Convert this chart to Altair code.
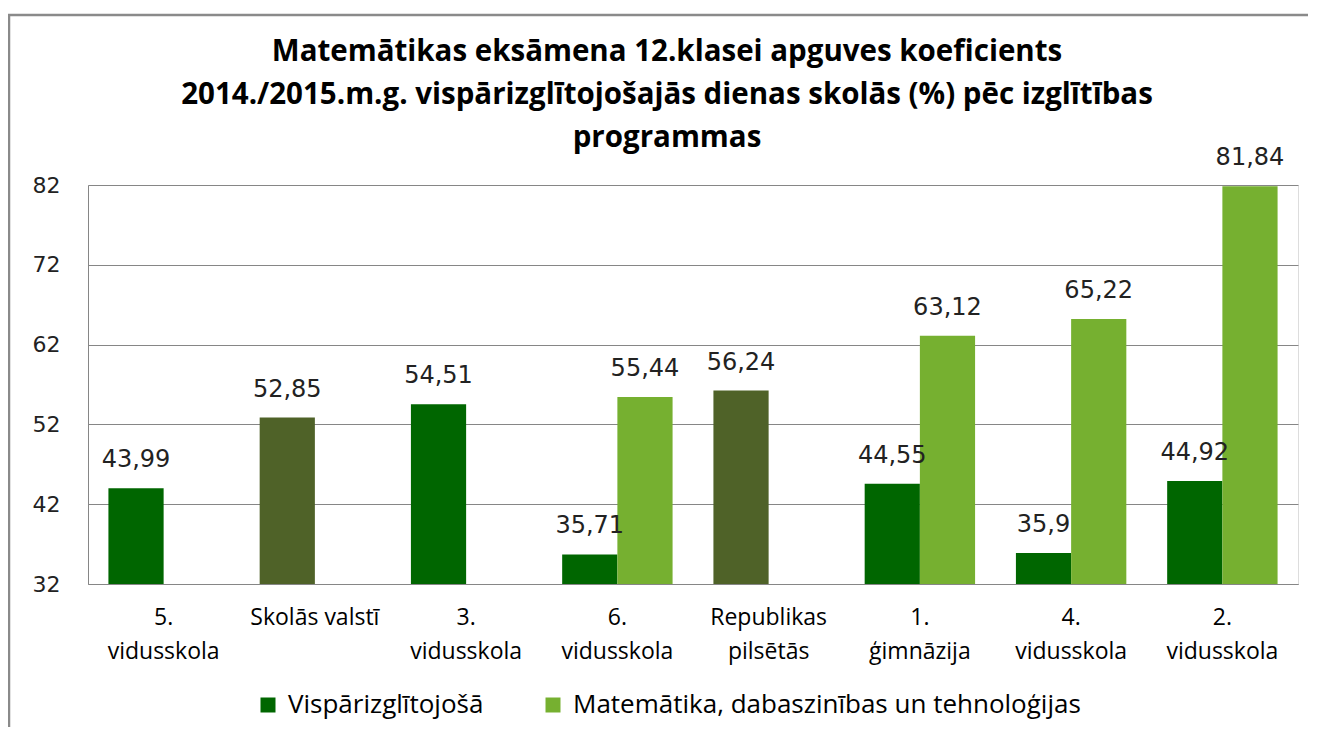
import altair as alt
import pandas as pd

TITLE_LINES = [
    "Matemātikas eksāmena 12.klasei apguves koeficients",
    "2014./2015.m.g. vispārizglītojošajās dienas skolās (%) pēc izglītības",
    "programmas",
]
CATEGORIES = ["5. vidusskola", "Skolās valstī", "3. vidusskola", "6. vidusskola",
              "Republikas pilsētās", "1. ģimnāzija", "4. vidusskola", "2. vidusskola"]
SERIES_NAMES = ["Vispārizglītojošā", "Matemātika, dabaszinības un tehnoloģijas"]
GENERAL = [43.99, 52.85, 54.51, 35.71, 56.24, 44.55, 35.9, 44.92]
MATH = [None, None, None, 55.44, None, 63.12, 65.22, 81.84]
TOTAL_CATEGORIES = ["Skolās valstī", "Republikas pilsētās"]
TOTAL_NAME = "Kopā"
Y_TICKS = [32, 42, 52, 62, 72, 82]
COLORS = ["#006600", "#76B030", "#4F6228"]

rows = []
for cat, g, m in zip(CATEGORIES, GENERAL, MATH):
    rows.append({"cat": cat, "series": SERIES_NAMES[0],
                 "group": TOTAL_NAME if cat in TOTAL_CATEGORIES else SERIES_NAMES[0],
                 "value": g})
    if m is not None:
        rows.append({"cat": cat, "series": SERIES_NAMES[1], "group": SERIES_NAMES[1], "value": m})
df = pd.DataFrame(rows)

FONT_SANS = "Open Sans"
FONT_NUM = "DejaVu Sans"
GRID = "#868686"

x = alt.X("cat:N", sort=CATEGORIES, title=None,
          scale=alt.Scale(paddingInner=0.27, paddingOuter=0.135),
          axis=alt.Axis(labelAngle=0, labelFont=FONT_SANS, labelFontSize=23, labelColor="#000",
                        labelPadding=22, labelLineHeight=34, ticks=False, domainColor=GRID,
                        labelLimit=300,
                        labelExpr="datum.label == 'Skolās valstī' ? datum.label : split(datum.label, ' ')"))
xoff = alt.XOffset("series:N", sort=SERIES_NAMES, scale=alt.Scale(domain=SERIES_NAMES))
y = alt.Y("value:Q", title=None,
          scale=alt.Scale(domain=[32, 82], nice=False, zero=False),
          axis=alt.Axis(values=Y_TICKS, labelFont=FONT_NUM, labelFontSize=22, labelColor="#222",
                        labelPadding=28, ticks=False, domainColor=GRID, gridColor=GRID,
                        grid=True))

base = alt.Chart(df)

bars = base.mark_bar(stroke=None).encode(
    x=x, xOffset=xoff, y=y, y2=alt.datum(32),
    color=alt.Color("group:N",
                    scale=alt.Scale(domain=SERIES_NAMES + [TOTAL_NAME], range=COLORS),
                    legend=alt.Legend(values=SERIES_NAMES, title=None, orient="none",
                                      direction="horizontal", legendX=167, legendY=507,
                                      symbolType="square", symbolSize=225, symbolStrokeWidth=0,
                                      labelFont=FONT_SANS, labelFontSize=26, labelColor="#000",
                                      labelOffset=7, columnPadding=56, labelLimit=700)),
)

labels = base.transform_calculate(
    lbl="replace(toString(datum.value), '.', ',')"
).mark_text(baseline="bottom", dy=-16, font=FONT_NUM, fontSize=24, color="#222").encode(
    x=alt.X("cat:N", sort=CATEGORIES), xOffset=xoff, y=alt.Y("value:Q"), text="lbl:N"
)

one = pd.DataFrame({"k": [0]})
frame_left = alt.Chart(one).mark_rule(color="#8a8a8a", strokeWidth=2.5).encode(
    x=alt.value(-79), y=alt.value(-170), y2=alt.value(560))
frame_top = alt.Chart(one).mark_rule(color="#8a8a8a", strokeWidth=2.5).encode(
    x=alt.value(-80), x2=alt.value(1230), y=alt.value(-170))
title = alt.Chart(one).mark_text(font=FONT_SANS, fontSize=29.5, fontWeight="bold", color="#000",
                                 lineHeight=43, baseline="middle", align="center").encode(
    x=alt.value(579), y=alt.value(-133), text=alt.value(TITLE_LINES))

chart = alt.layer(frame_left, frame_top, title, bars, labels).properties(
    width=1210, height=399,
    padding={"left": 80, "top": 177, "right": 10, "bottom": 143},
    autosize=alt.AutoSizeParams(type="none"),
).configure_view(stroke=None).configure(background="white")

chart.save("out.html", embed_options={"renderer": "svg", "actions": False})
